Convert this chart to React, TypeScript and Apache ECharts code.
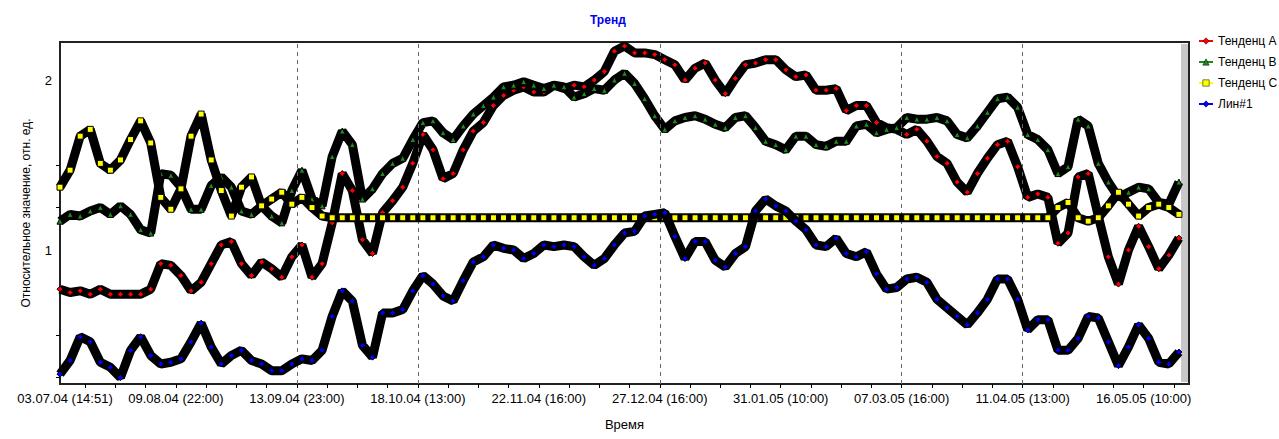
import React, { useEffect, useRef } from "react";
import * as echarts from "echarts";

const FONT = "'Liberation Sans', Arial, sans-serif";

const chartTitle = "Тренд";
const xAxisName = "Время";
const yAxisName = "Относительное значение, отн. ед.";
const seriesNames = ["Тенденц A", "Тенденц B", "Тенденц C", "Лин#1"];
const seriesColors = ["#ff0000", "#1e8a1e", "#ffff00", "#0000ff"];
const seriesSymbols = ["diamond", "triangle", "rect", "diamond"];

const xLabelPositions = [0.5, 11.5, 23.5, 35.5, 47.5, 59.5, 71.5, 83.5, 95.5, 107.5];
const xLabelTexts = [
  "03.07.04 (14:51)",
  "09.08.04 (22:00)",
  "13.09.04 (23:00)",
  "18.10.04 (13:00)",
  "22.11.04 (16:00)",
  "27.12.04 (16:00)",
  "31.01.05 (10:00)",
  "07.03.05 (16:00)",
  "11.04.05 (13:00)",
  "16.05.05 (10:00)",
];
const xTickPositions = [
  2.5, 5.5, 8.5, 11.5, 14.5, 17.5, 20.5, 23.5, 26.5, 29.5, 32.5, 35.5, 38.5,
  41.5, 44.5, 47.5, 50.5, 53.5, 56.5, 59.5, 62.5, 65.5, 68.5, 71.5, 74.5, 77.5,
  80.5, 83.5, 86.5, 89.5, 92.5, 95.5, 98.5, 101.5, 104.5, 107.5, 110.5,
];
const xGridLinePositions = [23.5, 35.5, 59.5, 83.5, 95.5];
const yLabelValues = [1, 2];
const yTickValues = [0.25, 0.5, 1.25, 1.5];

const trendA = [
  0.77, 0.75, 0.76, 0.74, 0.77, 0.74, 0.74, 0.74, 0.74, 0.77,
  0.92, 0.91, 0.85, 0.76, 0.81, 0.92, 1.03, 1.05, 0.92, 0.85,
  0.93, 0.89, 0.84, 0.96, 1.03, 0.84, 0.92, 1.16, 1.45, 1.35,
  1.06, 0.98, 1.22, 1.29, 1.37, 1.51, 1.68, 1.59, 1.42, 1.45,
  1.59, 1.70, 1.75, 1.85, 1.91, 1.94, 1.96, 1.93, 1.93, 1.97,
  1.95, 1.97, 1.96, 2.00, 2.05, 2.17, 2.20, 2.16, 2.16, 2.15,
  2.12, 2.09, 2.00, 2.07, 2.10, 2.00, 1.92, 2.01, 2.09, 2.10,
  2.12, 2.12, 2.06, 2.02, 2.03, 1.94, 1.94, 1.95, 1.82, 1.85,
  1.85, 1.75, 1.72, 1.71, 1.68, 1.71, 1.64, 1.55, 1.51, 1.40,
  1.34, 1.45, 1.54, 1.62, 1.64, 1.49, 1.31, 1.33, 1.31, 1.04,
  1.10, 1.43, 1.45, 1.20, 0.96, 0.80, 1.00, 1.14, 1.02, 0.89,
  0.97, 1.07,
];

const trendB = [
  1.17, 1.21, 1.20, 1.23, 1.25, 1.21, 1.26, 1.21, 1.12, 1.10,
  1.45, 1.44, 1.37, 1.24, 1.24, 1.38, 1.43, 1.37, 1.23, 1.21,
  1.26, 1.20, 1.16, 1.35, 1.47, 1.30, 1.26, 1.55, 1.70, 1.62,
  1.30, 1.36, 1.45, 1.51, 1.54, 1.65, 1.75, 1.76, 1.69, 1.65,
  1.73, 1.80, 1.85, 1.90, 1.96, 1.97, 1.99, 1.97, 1.95, 1.97,
  1.96, 1.90, 1.92, 1.95, 1.94, 2.00, 2.04, 1.98, 1.89, 1.79,
  1.71, 1.76, 1.78, 1.79, 1.77, 1.74, 1.72, 1.78, 1.79, 1.72,
  1.64, 1.62, 1.59, 1.67, 1.67, 1.62, 1.61, 1.64, 1.64, 1.73,
  1.74, 1.69, 1.71, 1.72, 1.78, 1.77, 1.77, 1.78, 1.76, 1.68,
  1.66, 1.73, 1.81, 1.89, 1.90, 1.84, 1.68, 1.65, 1.59, 1.45,
  1.49, 1.77, 1.73, 1.51, 1.40, 1.31, 1.34, 1.37, 1.36, 1.28,
  1.27, 1.40,
];

const trendC = [
  1.37, 1.47, 1.67, 1.71, 1.51, 1.47, 1.53, 1.65, 1.76, 1.63,
  1.31, 1.24, 1.36, 1.67, 1.80, 1.53, 1.35, 1.20, 1.37, 1.43,
  1.26, 1.30, 1.34, 1.27, 1.31, 1.25, 1.20, 1.19, 1.19, 1.19,
  1.19, 1.19, 1.19, 1.19, 1.19, 1.19, 1.19, 1.19, 1.19, 1.19,
  1.19, 1.19, 1.19, 1.19, 1.19, 1.19, 1.19, 1.19, 1.19, 1.19,
  1.19, 1.19, 1.19, 1.19, 1.19, 1.19, 1.19, 1.19, 1.19, 1.19,
  1.19, 1.19, 1.19, 1.19, 1.19, 1.19, 1.19, 1.19, 1.19, 1.19,
  1.19, 1.19, 1.19, 1.19, 1.19, 1.19, 1.19, 1.19, 1.19, 1.19,
  1.19, 1.19, 1.19, 1.19, 1.19, 1.19, 1.19, 1.19, 1.19, 1.19,
  1.19, 1.19, 1.19, 1.19, 1.19, 1.19, 1.19, 1.19, 1.19, 1.25,
  1.28, 1.19, 1.17, 1.19, 1.26, 1.34, 1.27, 1.20, 1.25, 1.27,
  1.25, 1.21,
];

const line1 = [
  0.27, 0.35, 0.49, 0.46, 0.34, 0.31, 0.25, 0.41, 0.49, 0.38,
  0.33, 0.34, 0.36, 0.46, 0.57, 0.43, 0.33, 0.38, 0.41, 0.35,
  0.33, 0.29, 0.29, 0.33, 0.36, 0.35, 0.41, 0.61, 0.76, 0.70,
  0.44, 0.37, 0.63, 0.63, 0.65, 0.76, 0.85, 0.80, 0.73, 0.70,
  0.82, 0.93, 0.96, 1.03, 1.01, 1.00, 0.95, 0.98, 1.03, 1.02,
  1.03, 1.02, 0.96, 0.91, 0.95, 1.03, 1.10, 1.11, 1.20, 1.21,
  1.22, 1.08, 0.95, 1.05, 1.05, 0.94, 0.90, 0.98, 1.02, 1.23,
  1.30, 1.26, 1.23, 1.17, 1.12, 1.03, 1.02, 1.07, 0.98, 0.96,
  0.99, 0.86, 0.77, 0.78, 0.83, 0.84, 0.81, 0.71, 0.66, 0.61,
  0.56, 0.63, 0.71, 0.83, 0.83, 0.71, 0.53, 0.59, 0.59, 0.41,
  0.41, 0.48, 0.61, 0.60, 0.46, 0.32, 0.43, 0.56, 0.48, 0.34,
  0.33, 0.40,
];

const allSeries = [trendA, trendB, trendC, line1];

export default function App() {
  const ref = useRef<HTMLDivElement>(null);

  useEffect(() => {
    if (!ref.current) return;
    const chart = echarts.init(ref.current, undefined, { renderer: "svg" });

    const lineSeries = allSeries.map((vals, k) => ({
      type: "line",
      name: seriesNames[k],
      data: vals.map((v, i) => [i, v]),
      symbol: seriesSymbols[k],
      symbolSize: 6,
      showSymbol: true,
      showAllSymbol: true,
      z: 3 + k,
      itemStyle: { color: seriesColors[k], borderColor: "#000", borderWidth: 1 },
      lineStyle: { color: "#000", width: 9 },
      emphasis: { disabled: true },
    }));

    chart.setOption({
      animation: false,
      backgroundColor: "#fff",
      title: {
        text: chartTitle,
        left: 585,
        top: 9,
        textStyle: { color: "#0000ee", fontSize: 12, fontWeight: "bold", fontFamily: FONT },
      },
      legend: {
        orient: "vertical",
        left: 1193,
        top: 30,
        itemGap: 9,
        itemWidth: 14,
        itemHeight: 8,
        textStyle: { color: "#000", fontSize: 12, fontFamily: FONT },
        data: seriesNames.map((n, k) => ({
          name: n,
          itemStyle: { color: seriesColors[k], borderColor: "#000", borderWidth: 0.5 },
          lineStyle: { color: seriesColors[k], width: 2 },
        })),
      },
      grid: {
        left: 60,
        right: 90,
        top: 42,
        bottom: 55,
        show: true,
        borderColor: "#222",
        borderWidth: 2,
        backgroundColor: "#fff",
      },
      graphic: [
        {
          type: "rect",
          left: 1181,
          top: 44,
          z: 1,
          shape: { width: 7, height: 338 },
          style: { fill: "#c8c8c8" },
        },
      ],
      xAxis: {
        type: "value",
        min: 0,
        max: 112,
        name: xAxisName,
        nameLocation: "middle",
        nameGap: 34,
        nameTextStyle: { color: "#000", fontSize: 13, fontFamily: FONT },
        axisLine: { show: false },
        axisTick: {
          show: true,
          customValues: xTickPositions,
          length: 4,
          lineStyle: { color: "#000" },
        },
        axisLabel: {
          customValues: xLabelPositions,
          color: "#000",
          fontSize: 13,
          fontFamily: FONT,
          margin: 8,
          formatter: (v: number) => {
            const idx = xLabelPositions.indexOf(v);
            return idx >= 0 ? xLabelTexts[idx] : "";
          },
        },
        splitLine: { show: false },
      },
      yAxis: {
        type: "value",
        min: 0.212,
        max: 2.224,
        name: yAxisName,
        nameLocation: "middle",
        nameGap: 28,
        nameRotate: 90,
        nameTextStyle: { color: "#000", fontSize: 12, fontFamily: FONT },
        axisLine: { show: false },
        axisTick: {
          show: true,
          customValues: yTickValues,
          length: 4,
          lineStyle: { color: "#000" },
        },
        axisLabel: {
          customValues: yLabelValues,
          color: "#000",
          fontSize: 13,
          fontFamily: FONT,
          margin: 8,
          formatter: (v: number) => String(v),
        },
        splitLine: { show: false },
      },
      series: [
        {
          type: "line",
          name: "__grid",
          data: [],
          silent: true,
          z: 2,
          markLine: {
            silent: true,
            symbol: ["none", "none"],
            label: { show: false },
            lineStyle: { color: "#666", type: [4, 4], width: 1 },
            data: xGridLinePositions.map((x) => ({ xAxis: x })),
          },
        },
        ...lineSeries,
      ],
    });

    return () => chart.dispose();
  }, []);

  return (
    <div
      ref={ref}
      style={{ position: "fixed", left: 0, top: 0, width: "1279px", height: "439px" }}
    />
  );
}
